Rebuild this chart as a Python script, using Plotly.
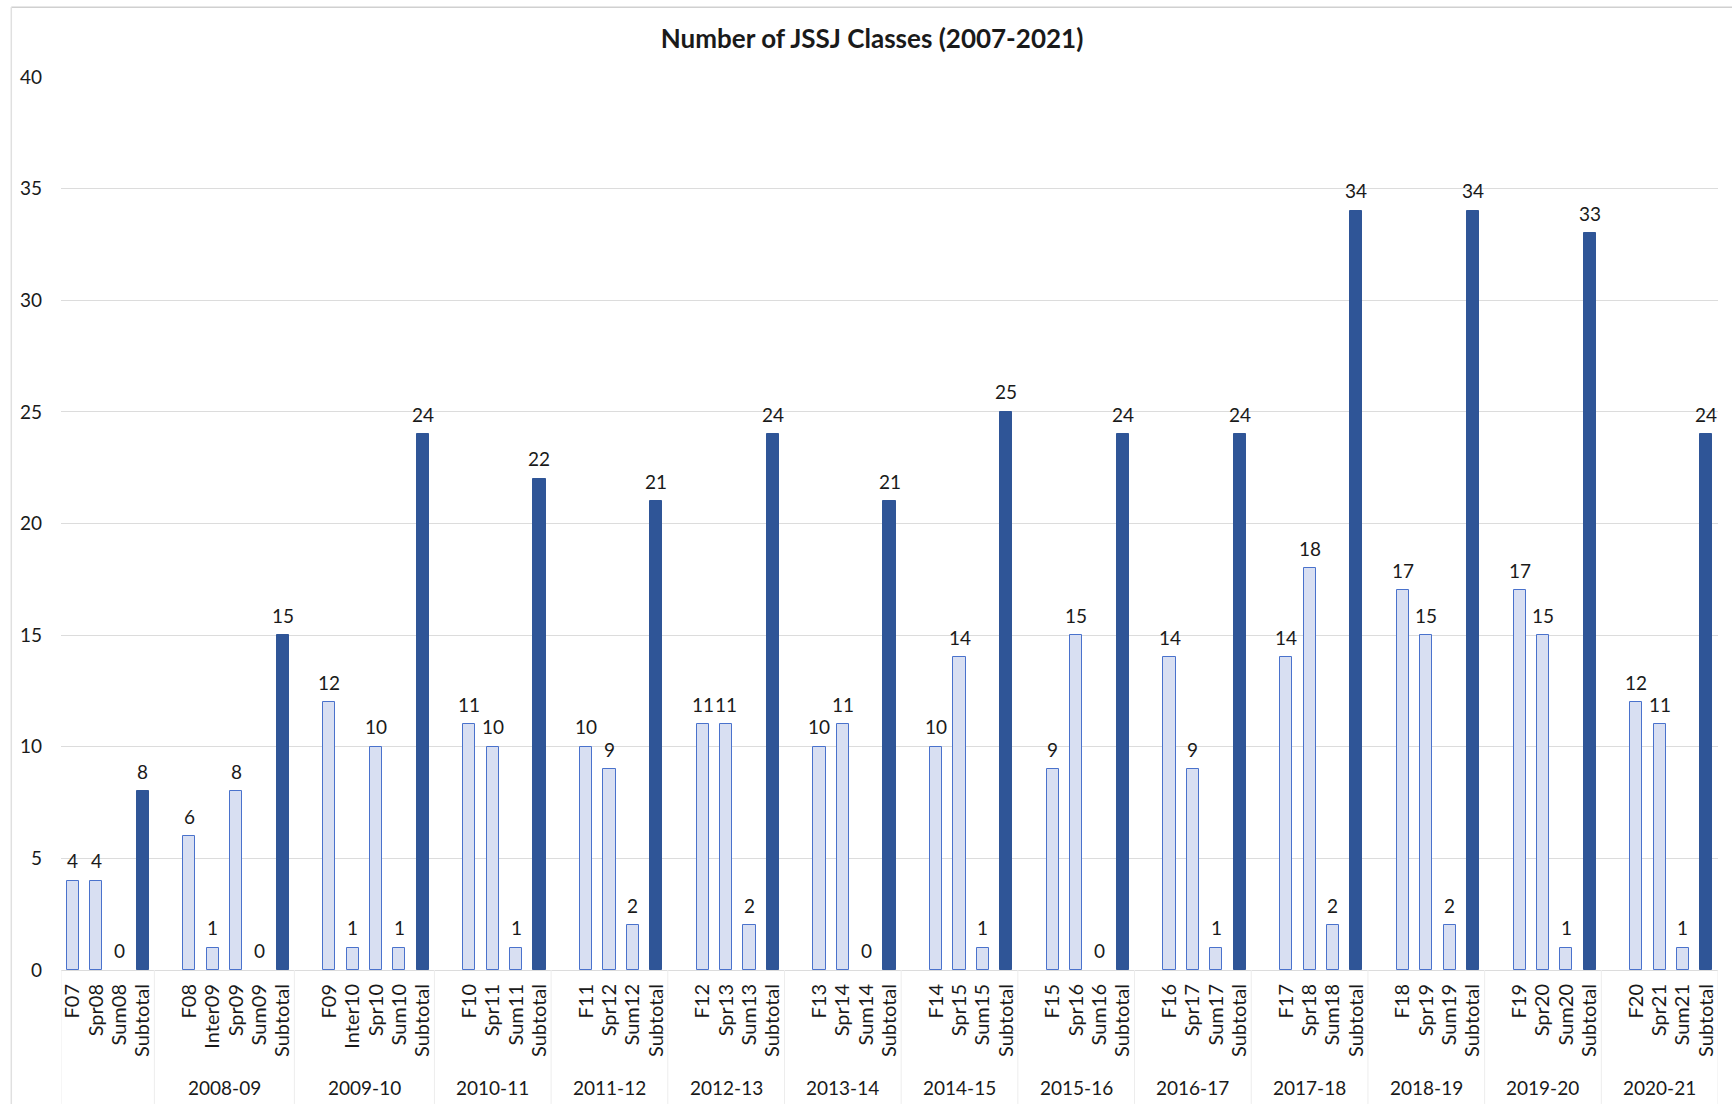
import plotly.graph_objects as go

# Academic years (first year has no label on the axis)
years = ["", "2008-09", "2009-10", "2010-11", "2011-12", "2012-13", "2013-14",
         "2014-15", "2015-16", "2016-17", "2017-18", "2018-19", "2019-20", "2020-21"]

terms = [
    ["F07", "Spr08", "Sum08", "Subtotal"],
    ["F08", "Inter09", "Spr09", "Sum09", "Subtotal"],
    ["F09", "Inter10", "Spr10", "Sum10", "Subtotal"],
    ["F10", "Spr11", "Sum11", "Subtotal"],
    ["F11", "Spr12", "Sum12", "Subtotal"],
    ["F12", "Spr13", "Sum13", "Subtotal"],
    ["F13", "Spr14", "Sum14", "Subtotal"],
    ["F14", "Spr15", "Sum15", "Subtotal"],
    ["F15", "Spr16", "Sum16", "Subtotal"],
    ["F16", "Spr17", "Sum17", "Subtotal"],
    ["F17", "Spr18", "Sum18", "Subtotal"],
    ["F18", "Spr19", "Sum19", "Subtotal"],
    ["F19", "Spr20", "Sum20", "Subtotal"],
    ["F20", "Spr21", "Sum21", "Subtotal"],
]

classes = [
    [4, 4, 0, 8],
    [6, 1, 8, 0, 15],
    [12, 1, 10, 1, 24],
    [11, 10, 1, 22],
    [10, 9, 2, 21],
    [11, 11, 2, 24],
    [10, 11, 0, 21],
    [10, 14, 1, 25],
    [9, 15, 0, 24],
    [14, 9, 1, 24],
    [14, 18, 2, 34],
    [17, 15, 2, 34],
    [17, 15, 1, 33],
    [12, 11, 1, 24],
]

LIGHT_FILL = "#d8dff2"
LIGHT_EDGE = "#4a72cc"
DARK_FILL = "#2f5597"
FONT = "Lato, 'Open Sans', sans-serif"
TXT = "#1a1a1a"

# Lay the terms out on a slot index; each year after the first starts with an empty slot
xs, ys, labels, is_total = [], [], [], []
group_spans = []
slot = 0
for gi, (tlist, vlist) in enumerate(zip(terms, classes)):
    start = slot - 0.5
    if gi > 0:
        slot += 1
    for t, v in zip(tlist, vlist):
        xs.append(slot)
        ys.append(v)
        labels.append(t)
        is_total.append(t == "Subtotal")
        slot += 1
    group_spans.append((start if gi > 0 else -0.5, slot - 0.5))

n_slots = slot

term_x = [x for x, tot in zip(xs, is_total) if not tot]
term_y = [y for y, tot in zip(ys, is_total) if not tot]
tot_x = [x for x, tot in zip(xs, is_total) if tot]
tot_y = [y for y, tot in zip(ys, is_total) if tot]

# empty terms get no outline so nothing is drawn on the baseline
term_edges = [LIGHT_EDGE if v > 0 else "rgba(0,0,0,0)" for v in term_y]

fig = go.Figure()
fig.add_trace(go.Bar(
    x=term_x, y=term_y, width=0.52,
    marker=dict(color=LIGHT_FILL, line=dict(color=term_edges, width=1)),
    showlegend=False, hoverinfo="x+y",
))
fig.add_trace(go.Bar(
    x=tot_x, y=tot_y, width=0.52,
    marker=dict(color=DARK_FILL, line=dict(color=DARK_FILL, width=1)),
    showlegend=False, hoverinfo="x+y",
))

annotations = []
# value labels above each bar
for x, y in zip(xs, ys):
    annotations.append(dict(
        x=x, y=y, xref="x", yref="y", text=str(y), showarrow=False,
        yanchor="middle", yshift=20, font=dict(family=FONT, size=19, color=TXT),
    ))
# academic-year labels under each group
for (x0, x1), yr in zip(group_spans, years):
    if yr:
        annotations.append(dict(
            x=(x0 + x1) / 2, y=0, xref="x", yref="y", text=yr, showarrow=False,
            yanchor="middle", yshift=-117, font=dict(family=FONT, size=19, color=TXT),
        ))

shapes = []
# dividers between year groups in the label band
bounds = [group_spans[0][0]] + [s[1] for s in group_spans]
for b in bounds:
    shapes.append(dict(type="line", xref="x", yref="paper", x0=b, x1=b,
                       y0=0, y1=-0.15, line=dict(color="#ededed", width=1)))
# chart frame edges (top and left)
shapes.append(dict(type="line", xref="paper", yref="paper", x0=-0.03, x1=1.01,
                   y0=1.078, y1=1.078, line=dict(color="#d0d0d0", width=1.5)))
shapes.append(dict(type="line", xref="paper", yref="paper", x0=-0.03, x1=-0.03,
                   y0=1.078, y1=-0.15, line=dict(color="#e0e0e0", width=1.5)))

fig.update_layout(
    width=1732, height=1104, autosize=False,
    margin=dict(l=61, r=14, t=77, b=134),
    paper_bgcolor="white", plot_bgcolor="white",
    title=dict(text="<b>Number of JSSJ Classes (2007-2021)</b>",
               x=0.5035, xanchor="center", y=1 - 39 / 1104, yanchor="middle",
               yref="container", font=dict(family=FONT, size=26, color=TXT)),
    barmode="overlay",
    bargap=0,
    annotations=annotations,
    shapes=shapes,
    font=dict(family=FONT, color=TXT),
)
fig.update_xaxes(
    range=[-0.5, n_slots - 0.5],
    tickmode="array", tickvals=xs, ticktext=labels, tickangle=-90,
    tickfont=dict(family=FONT, size=20, color=TXT),
    showgrid=False, zeroline=False, showline=False, ticks="",
    ticklabelstandoff=9,
)
fig.update_yaxes(
    range=[0, 40], dtick=5, tick0=0,
    showgrid=True, gridcolor="#dcdcdc", gridwidth=1,
    zeroline=True, zerolinecolor="#dcdcdc", zerolinewidth=1,
    showline=False, ticks="",
    tickfont=dict(family=FONT, size=19, color=TXT),
    ticklabelstandoff=18,
)

fig.write_html("out.html")
